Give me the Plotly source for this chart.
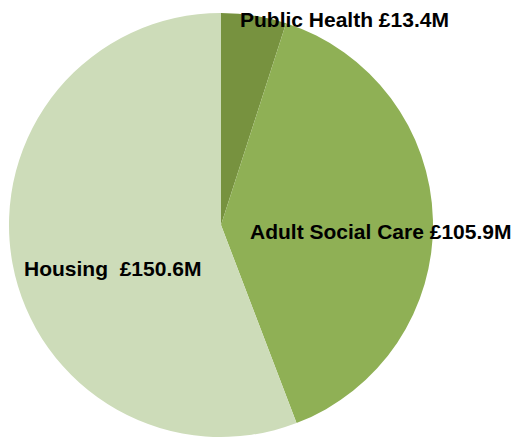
import plotly.graph_objects as go

labels = ["Public Health", "Adult Social Care", "Housing"]
values = [13.4, 105.9, 150.6]
colors = ["#77923F", "#8FB055", "#CDDCB9"]

# label anchor points in paper coords (left edge, vertical middle)
label_pos = [(0.437, 0.973), (0.456, 0.493), (0.026, 0.407)]

W, H = 526, 440
# page body has an 8px margin, so the figure sits 8px right/down
cx, cy, r = 213, 217, 212

fig = go.Figure(go.Pie(
    labels=labels,
    values=values,
    sort=False,
    direction="clockwise",
    rotation=0,
    textinfo="none",
    hoverinfo="label+value",
    marker=dict(colors=colors, line=dict(width=0)),
    domain=dict(
        x=[(cx - r) / W, (cx + r) / W],
        y=[(H - cy - r) / H, (H - cy + r) / H],
    ),
))

for lbl, val, (x, y) in zip(labels, values, label_pos):
    sep = "  " if lbl == "Housing" else " "
    fig.add_annotation(
        x=x, y=y, xref="paper", yref="paper",
        xanchor="left", yanchor="middle",
        text=f"<b>{lbl}{sep}£{val:.1f}M</b>",
        showarrow=False,
        font=dict(family="Liberation Sans, Arial, sans-serif", size=21, color="#000000"),
    )

fig.update_layout(
    width=W, height=H,
    margin=dict(l=0, r=0, t=0, b=0),
    paper_bgcolor="white",
    plot_bgcolor="white",
    showlegend=False,
)

fig.write_html("out.html")
